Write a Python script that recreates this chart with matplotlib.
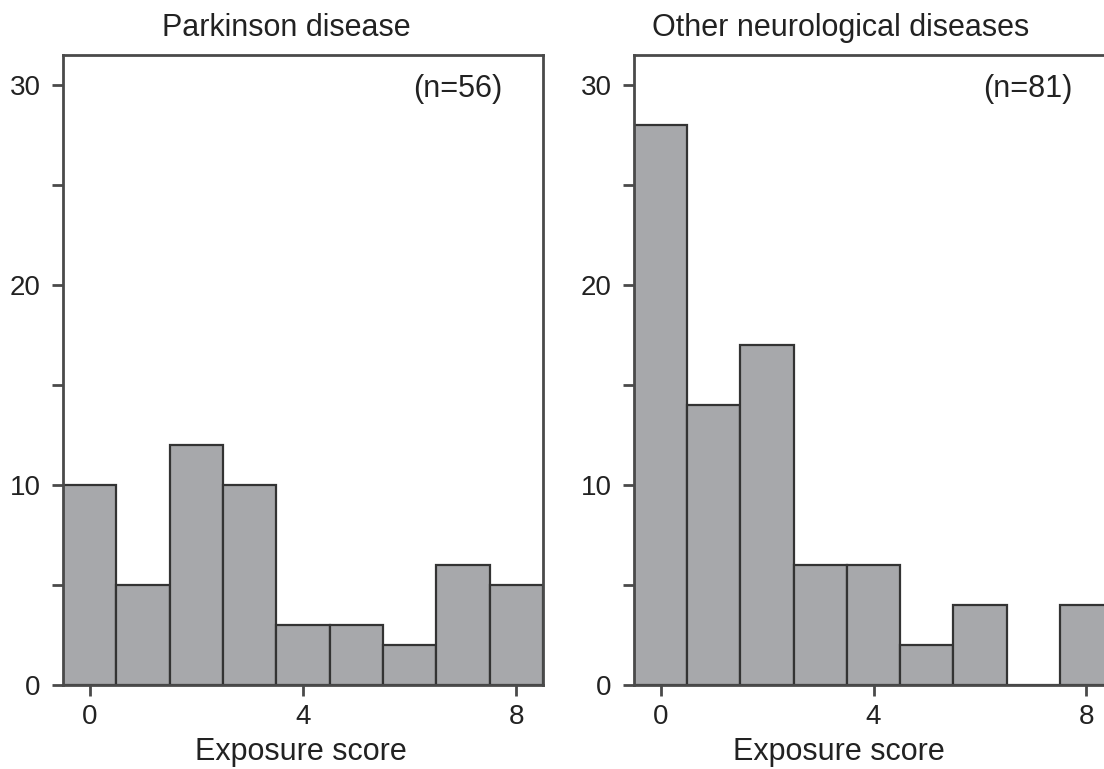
import numpy as np
import matplotlib.pyplot as plt

plt.rcParams['font.family'] = ['Liberation Sans', 'DejaVu Sans']

scores = [0, 1, 2, 3, 4, 5, 6, 7, 8]
parkinson_counts = [10, 5, 12, 10, 3, 3, 2, 6, 5]
other_counts = [28, 14, 17, 6, 6, 2, 4, 0, 4]
panel_titles = ["Parkinson disease", "Other neurological diseases"]
panel_n = ["(n=56)", "(n=81)"]

bar_color = '#a7a8ab'
edge_color = '#333333'
spine_color = '#4a4a4a'
text_color = '#222222'


def draw_panel(ax, counts, title, ntext, title_x, label_x):
    ax.bar(scores, counts, width=1.0, color=bar_color, edgecolor=edge_color,
           linewidth=1.6)
    ax.set_xlim(-0.5, 8.5)
    ax.set_ylim(0, 31.5)
    ax.set_xticks([0, 4, 8])
    ax.set_yticks([0, 10, 20, 30])
    ax.set_yticks([5, 15, 25], minor=True)
    ax.tick_params(axis='both', which='both', direction='out', length=8,
                   width=2, color=spine_color, labelsize=20,
                   labelcolor=text_color)
    ax.tick_params(axis='x', pad=6)
    ax.tick_params(axis='y', pad=8)
    for sp in ax.spines.values():
        sp.set_color(spine_color)
        sp.set_linewidth(2)
    ax.text(6.9, 29.8, ntext, ha='center', va='center', fontsize=22,
            color=text_color)
    ax.set_title(title, fontsize=22, x=title_x, pad=14, color=text_color)
    ax.text(label_x, -0.119, "Exposure score", transform=ax.transAxes,
            ha='center', va='baseline', fontsize=22, color=text_color)


fig = plt.figure(figsize=(11.04, 7.69), dpi=100)
ax1 = fig.add_axes([63 / 1104, 1 - 685 / 769, 480 / 1104, 630 / 769])
ax2 = fig.add_axes([634 / 1104, 1 - 685 / 769, 479 / 1104, 630 / 769])

draw_panel(ax1, parkinson_counts, panel_titles[0], panel_n[0], 0.465, 0.496)
draw_panel(ax2, other_counts, panel_titles[1], panel_n[1], 0.432, 0.427)

fig.savefig('out.png', dpi=100)
